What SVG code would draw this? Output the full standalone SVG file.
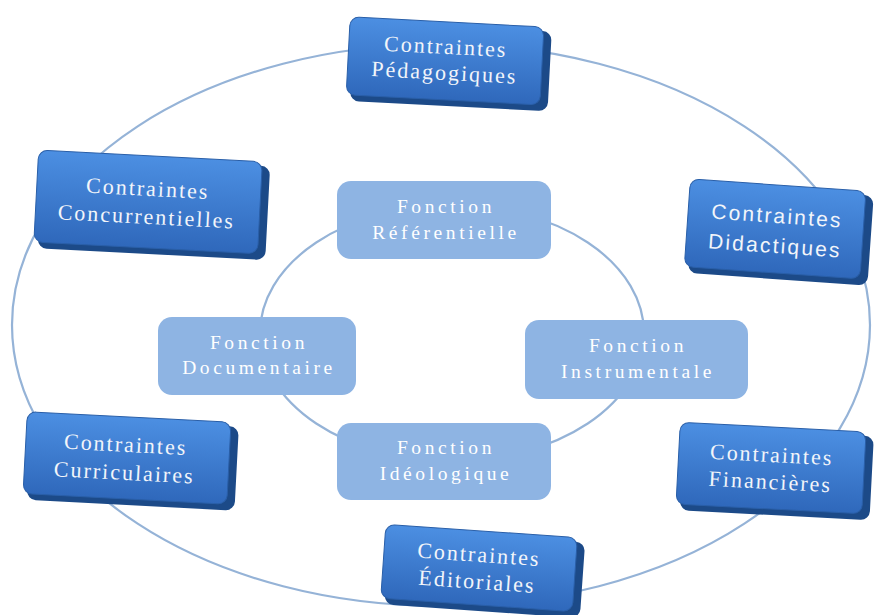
<svg xmlns="http://www.w3.org/2000/svg" width="881" height="615" viewBox="0 0 881 615">
<defs>
<linearGradient id="face" x1="0" y1="0" x2="0" y2="1">
<stop offset="0" stop-color="#4c8fe2"/>
<stop offset="1" stop-color="#2f68bb"/>
</linearGradient>
<style>
.ring{fill:none;stroke:#95b3d7;stroke-width:2.2}
.depth{fill:#1c4a88}
.face{fill:url(#face);stroke:#2a5fa8;stroke-width:1}
.inner{fill:#8eb4e3}
.ot{font-family:"Liberation Serif",serif;font-size:22px;letter-spacing:2px;fill:#f2f5fa;text-anchor:middle}
.os{font-family:"Liberation Sans",sans-serif;font-size:21px;letter-spacing:2.2px;fill:#f2f5fa;text-anchor:middle}
.it{font-family:"Liberation Serif",serif;font-size:19.5px;letter-spacing:3.6px;fill:#ffffff;text-anchor:middle}
</style>
</defs>
<rect width="881" height="615" fill="#ffffff"/>
<g id="connectors">
<ellipse class="ring" cx="441" cy="325" rx="429" ry="281"/>
<ellipse class="ring" cx="452" cy="333" rx="192" ry="128"/>
</g>
<g id="ref">
<rect class="inner" x="337" y="181" width="214" height="78" rx="14"/>
<text class="it" x="446" y="213">Fonction</text>
<text class="it" x="446" y="239">Référentielle</text>
</g>
<g id="doc">
<rect class="inner" x="158" y="317" width="198" height="78" rx="14"/>
<text class="it" x="259" y="349">Fonction</text>
<text class="it" x="259" y="374">Documentaire</text>
</g>
<g id="instr">
<rect class="inner" x="525" y="320" width="223" height="79" rx="14"/>
<text class="it" x="638" y="352">Fonction</text>
<text class="it" x="638" y="378">Instrumentale</text>
</g>
<g id="ideo">
<rect class="inner" x="337" y="423" width="214" height="77" rx="14"/>
<text class="it" x="446" y="454">Fonction</text>
<text class="it" x="446" y="480">Idéologique</text>
</g>
<g id="peda" transform="translate(447,62) rotate(3)">
<rect class="depth" x="-95" y="-36" width="198" height="80" rx="9"/>
<rect class="face" x="-99" y="-40" width="194" height="78" rx="9"/>
<text class="ot" x="-2" y="-8">Contraintes</text>
<text class="ot" x="-2" y="18">Pédagogiques</text>
</g>
<g id="conc" transform="translate(150,204) rotate(3)">
<rect class="depth" x="-110" y="-44" width="228" height="94" rx="9"/>
<rect class="face" x="-114" y="-48" width="224" height="92" rx="9"/>
<text class="ot" x="-3" y="-8">Contraintes</text>
<text class="ot" x="-3" y="20">Concurrentielles</text>
</g>
<g id="dida" transform="translate(776,231) rotate(4)">
<rect class="depth" x="-85" y="-42" width="180" height="90" rx="9"/>
<rect class="face" x="-89" y="-46" width="176" height="88" rx="9"/>
<text class="os" x="0" y="-8">Contraintes</text>
<text class="os" x="0" y="22">Didactiques</text>
</g>
<g id="curr" transform="translate(128,459) rotate(3)">
<rect class="depth" x="-99" y="-38" width="208" height="84" rx="9"/>
<rect class="face" x="-103" y="-42" width="204" height="82" rx="9"/>
<text class="ot" x="-3" y="-7">Contraintes</text>
<text class="ot" x="-3" y="21">Curriculaires</text>
</g>
<g id="fina" transform="translate(771,469) rotate(3)">
<rect class="depth" x="-89" y="-38" width="190" height="84" rx="9"/>
<rect class="face" x="-93" y="-42" width="186" height="82" rx="9"/>
<text class="ot" x="0" y="-7">Contraintes</text>
<text class="ot" x="0" y="20">Financières</text>
</g>
<g id="edit" transform="translate(480,569) rotate(4)">
<rect class="depth" x="-93" y="-34" width="196" height="76" rx="9"/>
<rect class="face" x="-97" y="-38" width="192" height="74" rx="9"/>
<text class="ot" x="-2" y="-7">Contraintes</text>
<text class="ot" x="-2" y="20">Éditoriales</text>
</g>
</svg>
